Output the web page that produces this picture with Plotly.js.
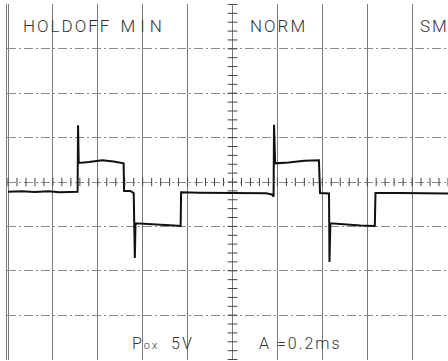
<!DOCTYPE html>
<html>
<head>
<meta charset="utf-8">
<script src="https://cdn.plot.ly/plotly-3.0.1.min.js"></script>
<style>
html,body{margin:0;padding:0;background:#fff;overflow:hidden;}
.annotation-text{letter-spacing:2px;}
.annotation[data-index="1"] .annotation-text{letter-spacing:5px;}
</style>
</head>
<body>
<div id="chart" style="width:448px;height:361px;"></div>
<script>
// Oscilloscope capture: 5 V/div, 0.2 ms/div
const timeMs = [0.000, 0.060, 0.120, 0.180, 0.230, 0.280, 0.310, 0.312, 0.315, 0.360, 0.420, 0.470, 0.515, 0.517, 0.545, 0.560, 0.565, 0.568, 0.620, 0.680, 0.740, 0.769, 0.771, 0.850, 0.950, 1.050, 1.150, 1.175, 1.183, 1.185, 1.190, 1.250, 1.320, 1.385, 1.390, 1.430, 1.432, 1.436, 1.500, 1.570, 1.634, 1.637, 1.750, 1.850, 1.960];
const volts  = [-1.10, -1.05, -1.12, -1.05, -1.15, -1.12, -1.10, 6.40, 2.15, 2.25, 2.45, 2.30, 2.10, -1.00, -1.00, -1.25, -8.55, -4.65, -4.70, -4.80, -4.90, -4.95, -1.15, -1.20, -1.20, -1.25, -1.28, -1.40, -1.65, 6.45, 2.10, 2.20, 2.40, 2.45, -1.25, -1.30, -9.00, -4.65, -4.80, -4.90, -4.95, -1.25, -1.25, -1.28, -1.30];

const voltsPerDiv = 5;
const msPerDiv = 0.2;
const xDivs = 10, yDivs = 8;
const centerMs = msPerDiv * xDivs / 2;

const topLabels = ["HOLDOFF", "MIN", "NORM", "SM"];
const topLabelMs = [0.058, 0.512, 1.069, 1.827];
const bottomLabels = ["P<span style='font-size:11px'>ox</span>  5V", "A =0.2ms"];
const bottomLabelMs = [0.545, 1.110];

// graticule minor ticks (0.2 div) along centre lines
const hx = [], hy = [], vx = [], vy = [];
for (let i = 0; i <= xDivs * 5; i++) { hx.push(i * msPerDiv / 5); hy.push(0); }
for (let j = -yDivs * 5 / 2; j <= yDivs * 5 / 2; j++) { vx.push(centerMs); vy.push(j * voltsPerDiv / 5); }

const traces = [
  {x: hx, y: hy, mode: 'markers', hoverinfo: 'skip',
   marker: {symbol: 'line-ns-open', size: 6, color: '#444', line: {width: 1, color: '#444'}}},
  {x: vx, y: vy, mode: 'markers', hoverinfo: 'skip',
   marker: {symbol: 'line-ew-open', size: 7, color: '#444', line: {width: 1, color: '#444'}}},
  {x: timeMs, y: volts, mode: 'lines', hoverinfo: 'skip',
   line: {color: '#111', width: 2, shape: 'linear'}}
];

const font = {family: 'Roboto, "Liberation Sans", sans-serif', size: 17, color: '#333', weight: 300};
const annotations = [];
topLabels.forEach((t, i) => annotations.push({
  x: topLabelMs[i], y: 17.6, xref: 'x', yref: 'y', text: t, showarrow: false,
  xanchor: 'left', yanchor: 'middle', font: font
}));
bottomLabels.forEach((t, i) => annotations.push({
  x: bottomLabelMs[i], y: -18.2, xref: 'x', yref: 'y', text: t, showarrow: false,
  xanchor: 'left', yanchor: 'middle', font: Object.assign({}, font, {size: 16})
}));

const layout = {
  width: 448, height: 361,
  margin: {l: 7, r: 0, t: 4, b: 1, pad: 0},
  paper_bgcolor: '#fff', plot_bgcolor: '#fff',
  showlegend: false,
  xaxis: {range: [-0.0045, 1.96], tick0: 0, dtick: msPerDiv, showgrid: true,
          gridcolor: '#7a7a7a', gridwidth: 1, zeroline: false, showticklabels: false,
          ticks: '', showline: false, fixedrange: true},
  yaxis: {range: [-20.05, 20.05], tick0: 0, dtick: voltsPerDiv, showgrid: true,
          gridcolor: '#8a8a8a', gridwidth: 1, griddash: '9px,3px,2px,3px', zeroline: false,
          showticklabels: false, ticks: '', showline: true, linecolor: '#7a7a7a', linewidth: 1,
          fixedrange: true},
  annotations: annotations
};

Plotly.newPlot('chart', traces, layout, {staticPlot: true, displayModeBar: false});
</script>
</body>
</html>
